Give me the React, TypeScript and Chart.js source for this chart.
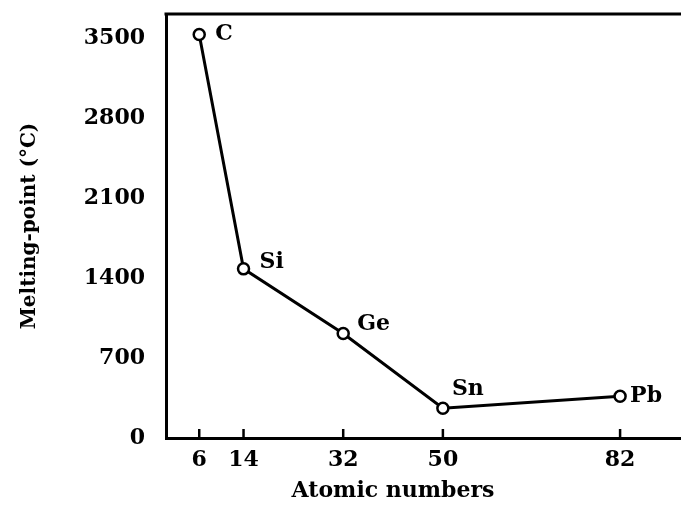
import React, { useEffect, useRef } from "react";
import { Chart, registerables } from "chart.js";

Chart.register(...registerables);

// ---- data ----
const elements = ["C", "Si", "Ge", "Sn", "Pb"];
const atomicNumbers = [6, 14, 32, 50, 82];
const meltingPoints = [3530, 1480, 915, 260, 365];
const xTickValues = [6, 14, 32, 50, 82];
const yTickValues = [0, 700, 1400, 2100, 2800, 3500];
const xTitle = "Atomic numbers";
const yTitle = "Melting-point (°C)";

// ---- style ----
const FONT = "'DejaVu Serif', 'Liberation Serif', serif";
const INK = "#000";
const labelOffsets: [number, number][] = [
  [16, 0],
  [16, -7],
  [14, -9],
  [9, -19],
  [10, 0],
];

const framePlugin = {
  id: "frameAndTicks",
  afterDatasetsDraw(chart: any) {
    const { ctx, chartArea } = chart;
    const xs = chart.scales.x;
    ctx.save();
    ctx.strokeStyle = INK;
    ctx.lineWidth = 3;
    ctx.beginPath();
    ctx.moveTo(chartArea.left - 1.5, chartArea.top);
    ctx.lineTo(chartArea.right, chartArea.top);
    ctx.stroke();
    ctx.lineWidth = 2.5;
    xTickValues.forEach((v) => {
      const px = xs.getPixelForValue(v);
      ctx.beginPath();
      ctx.moveTo(px, chartArea.bottom);
      ctx.lineTo(px, chartArea.bottom - 9);
      ctx.stroke();
    });
    // point labels
    const meta = chart.getDatasetMeta(0);
    ctx.fillStyle = INK;
    ctx.font = `bold 22px ${FONT}`;
    ctx.textAlign = "left";
    ctx.textBaseline = "middle";
    meta.data.forEach((el: any, i: number) => {
      const [dx, dy] = labelOffsets[i];
      ctx.fillText(elements[i], el.x + dx, el.y + dy);
    });
    // x axis title
    ctx.font = `bold 22px ${FONT}`;
    ctx.textAlign = "center";
    ctx.textBaseline = "middle";
    ctx.fillText(xTitle, 393, 491);
    ctx.restore();
  },
};

export default function App() {
  const ref = useRef<HTMLCanvasElement | null>(null);

  useEffect(() => {
    document.body.style.margin = "0";
    const canvas = ref.current;
    if (!canvas) return;
    const chart = new Chart(canvas, {
      type: "line",
      data: {
        datasets: [
          {
            data: atomicNumbers.map((x, i) => ({ x, y: meltingPoints[i] })),
            borderColor: INK,
            borderWidth: 3,
            tension: 0,
            pointRadius: 5.5,
            pointBorderWidth: 2.5,
            pointBackgroundColor: "#fff",
            pointBorderColor: INK,
            clip: false as any,
          },
        ],
      },
      options: {
        responsive: false,
        animation: false,
        devicePixelRatio: 1,
        layout: { autoPadding: false, padding: { top: 14, right: 0, bottom: 0, left: 0 } },
        plugins: {
          legend: { display: false },
          tooltip: { enabled: false },
        },
        scales: {
          x: {
            type: "linear",
            min: 0,
            max: 93,
            grid: { display: false, drawTicks: false },
            border: { display: true, color: INK, width: 3 },
            afterBuildTicks: (s: any) => {
              s.ticks = xTickValues.map((v) => ({ value: v }));
            },
            afterFit: (s: any) => {
              s.height = 68;
              s.paddingLeft = 0;
              s.paddingRight = 0;
            },
            ticks: {
              color: INK,
              padding: 9,
              autoSkip: false,
              maxRotation: 0,
              font: { family: FONT, size: 22, weight: "bold" },
              callback: (v: any) => String(v),
            },
            title: { display: false, text: xTitle },
          },
          y: {
            type: "linear",
            min: 0,
            max: 3710,
            grid: { display: false, drawTicks: false },
            border: { display: true, color: INK, width: 3 },
            afterBuildTicks: (s: any) => {
              s.ticks = yTickValues.map((v) => ({ value: v }));
            },
            afterFit: (s: any) => {
              s.width = 166;
              s.paddingTop = 0;
              s.paddingBottom = 0;
            },
            ticks: {
              color: INK,
              padding: 21,
              font: { family: FONT, size: 22, weight: "bold" },
              callback: (v: any) => String(v),
            },
            title: {
              display: true,
              text: yTitle,
              color: INK,
              padding: { top: 18, bottom: 0 },
              font: { family: FONT, size: 20, weight: "bold" },
            },
          },
        },
      },
      plugins: [framePlugin],
    });
    return () => chart.destroy();
  }, []);

  return (
    <div style={{ position: "fixed", left: 0, top: 0, width: 681, height: 506, background: "#fff" }}>
      <canvas ref={ref} width={681} height={506} style={{ width: 681, height: 506, display: "block" }} />
    </div>
  );
}
